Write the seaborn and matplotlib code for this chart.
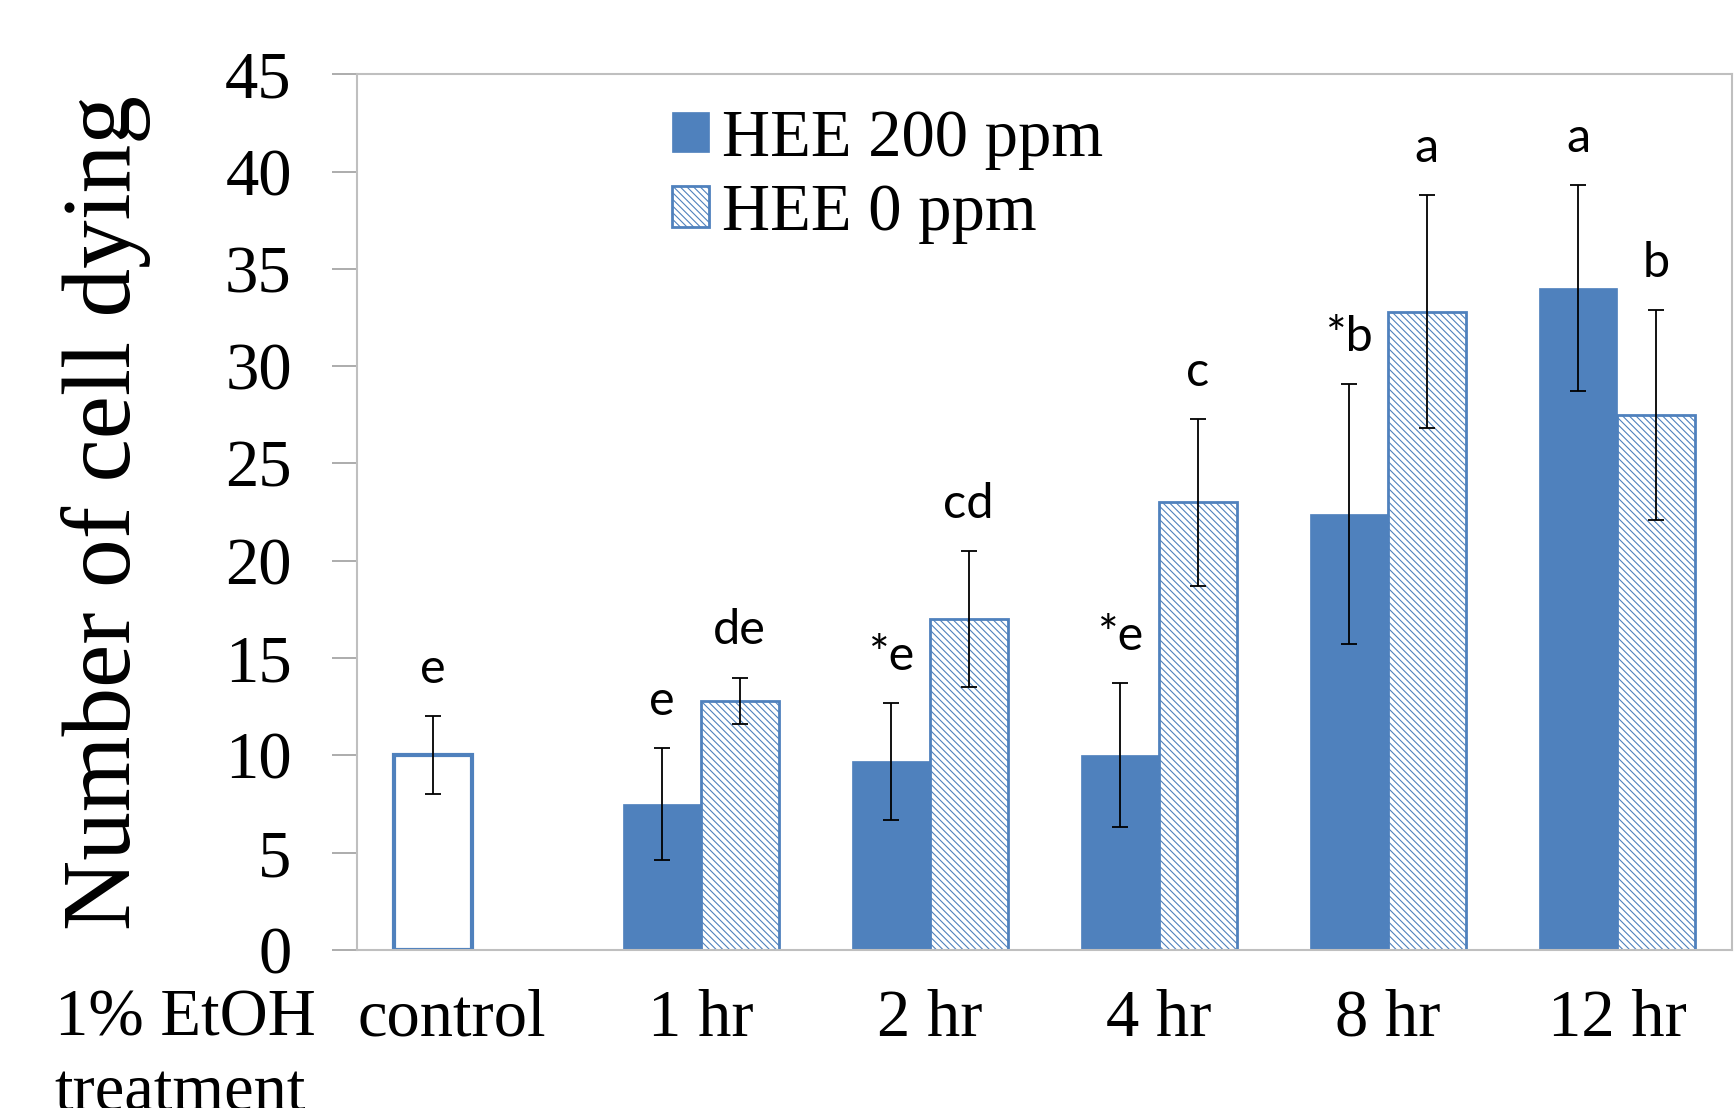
import numpy as np
import pandas as pd
import matplotlib
matplotlib.use("Agg")
import matplotlib.pyplot as plt
import matplotlib.transforms as mtransforms
import seaborn as sns
from matplotlib.patches import Patch

categories = ["control", "1 hr", "2 hr", "4 hr", "8 hr", "12 hr"]
groups = ["HEE 200 ppm", "HEE 0 ppm"]
hee200_mean = [10.0, 7.5, 9.7, 10.0, 22.4, 34.0]
hee200_sd = [2.0, 2.9, 3.0, 3.7, 6.7, 5.3]
hee0_mean = [np.nan, 12.8, 17.0, 23.0, 32.8, 27.5]
hee0_sd = [np.nan, 1.2, 3.5, 4.3, 6.0, 5.4]
hee200_letters = ["e", "e", "*e", "*e", "*b", "a"]
hee0_letters = ["", "de", "cd", "c", "a", "b"]
yticks = [0, 5, 10, 15, 20, 25, 30, 35, 40, 45]

BLUE = "#4F81BD"
SERIF = "Liberation Serif"
HATCH = "\\\\\\\\\\"

rows = []
for i, c in enumerate(categories):
    rows.append(dict(time=c, group=groups[0], value=hee200_mean[i], sd=hee200_sd[i], letter=hee200_letters[i]))
    if not np.isnan(hee0_mean[i]):
        rows.append(dict(time=c, group=groups[1], value=hee0_mean[i], sd=hee0_sd[i], letter=hee0_letters[i]))
df = pd.DataFrame(rows)

sns.set_style("white")
plt.rcParams["font.family"] = [SERIF, "DejaVu Serif"]
plt.rcParams["hatch.linewidth"] = 0.8
plt.rcParams["text.color"] = "black"
plt.rcParams["axes.labelcolor"] = "black"
plt.rcParams["xtick.labelcolor"] = "black"
plt.rcParams["ytick.labelcolor"] = "black"

fig, ax = plt.subplots(figsize=(17.35, 11.08), dpi=100)
fig.subplots_adjust(left=0.2058, right=0.998, top=0.933, bottom=0.1426)

sns.barplot(data=df, x="time", y="value", hue="group", order=categories,
            hue_order=groups, palette={groups[0]: BLUE, groups[1]: "white"},
            width=0.68, gap=0, errorbar=None, saturation=1, legend=False, ax=ax)

for p in list(ax.patches):
    h = p.get_height()
    if h is None or np.isnan(h) or h <= 0:
        continue
    cx = p.get_x() + p.get_width() / 2
    cat = int(round(cx))
    hue = 0 if cx < cat else 1
    sub = df[(df.time == categories[cat]) & (df.group == groups[hue])].iloc[0]
    if hue == 1:
        p.set_facecolor("white")
        p.set_edgecolor(BLUE)
        p.set_hatch(HATCH)
        p.set_linewidth(2.0)
    elif cat == 0:
        p.set_facecolor("white")
        p.set_edgecolor(BLUE)
        p.set_linewidth(3.0)
    else:
        p.set_facecolor(BLUE)
        p.set_edgecolor(BLUE)
        p.set_linewidth(0.5)
    ax.errorbar(cx, sub.value, yerr=sub.sd, fmt="none", ecolor="black",
                elinewidth=1.3, capsize=6, capthick=1.3, zorder=5)
    ax.text(cx, sub.value + sub.sd + 1.7, sub.letter, ha="center", va="baseline",
            fontsize=35, family=["Lato", "DejaVu Sans"], color="black")

ax.set_xlim(-0.5, 5.5)
ax.set_ylim(0, 45)
ax.set_yticks(yticks)
ax.set_yticklabels([str(t) for t in yticks])
ax.set_xlabel("")
ax.set_ylabel("Number of cell dying", fontsize=70, family=SERIF, color="black")
ax.yaxis.set_label_coords(-0.150, 0.5)

for s in ax.spines.values():
    s.set_visible(True)
    s.set_color("#BFBFBF")
    s.set_linewidth(1.5)

ax.tick_params(axis="y", direction="out", length=18, width=1.3, color="#A6A6A6",
               labelsize=48, pad=29, left=True, labelcolor="black")
ax.tick_params(axis="x", length=0, labelsize=48, pad=28, labelcolor="black")

# control label sits a little left of its category centre in the reference
ctrl_label = ax.get_xticklabels()[0]
ctrl_label.set_transform(ctrl_label.get_transform() +
                         mtransforms.ScaledTranslation(-0.20, 0, fig.dpi_scale_trans))

ax.text(-0.22, -0.079, "1% EtOH", transform=ax.transAxes, ha="left", va="center",
        fontsize=48, family=SERIF)
ax.text(-0.22, -0.164, "treatment", transform=ax.transAxes, ha="left", va="center",
        fontsize=48, family=SERIF)

handles = [Patch(facecolor=BLUE, edgecolor=BLUE, linewidth=0.5),
           Patch(facecolor="white", edgecolor=BLUE, hatch=HATCH, linewidth=2.0)]
leg = ax.legend(handles, groups, loc="upper left", bbox_to_anchor=(0.21, 0.991),
                frameon=False, fontsize=48, handlelength=0.55, handleheight=0.55,
                handletextpad=0.2, labelspacing=0.2, borderaxespad=0)
for t in leg.get_texts():
    t.set_family(SERIF)
    t.set_color("black")

fig.savefig("out.png", dpi=100)
